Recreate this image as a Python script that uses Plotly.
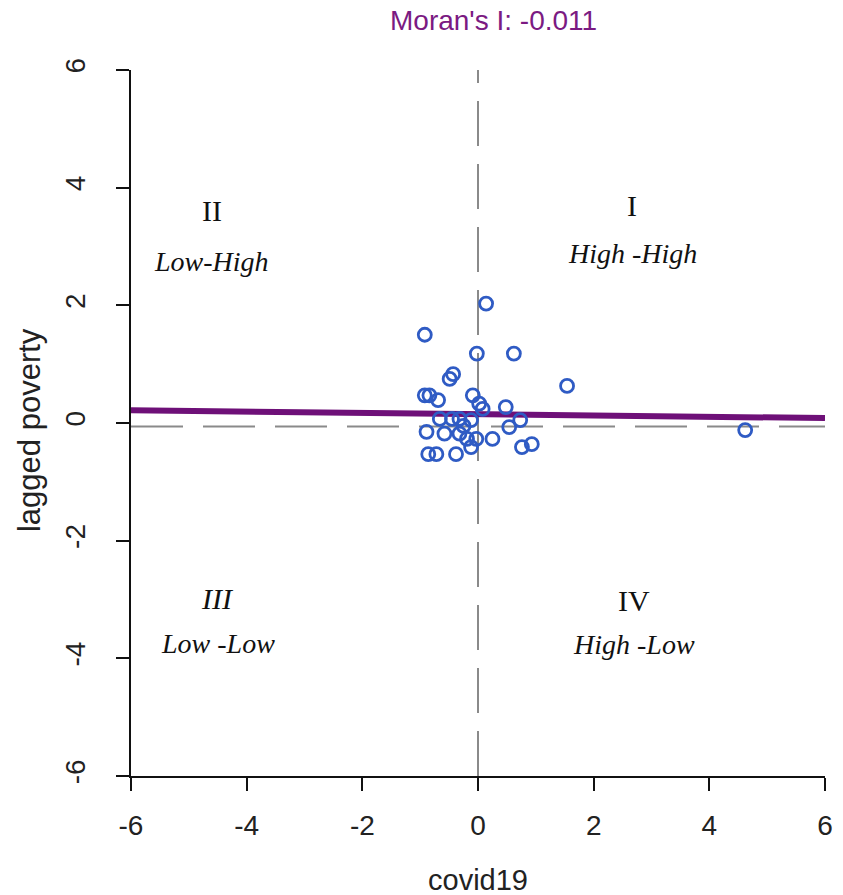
import plotly.graph_objects as go

# Data
covid19 = [0.14, -0.92, -0.02, 0.62, 1.54, 4.62,
           -0.49, -0.43, -0.92, -0.84, -0.69, -0.09, 0.02, 0.48, 0.08,
           -0.66, -0.32, -0.12, 0.73, 0.54, -0.89, -0.58, -0.32, -0.19,
           -0.03, 0.25, 0.76, 0.93, -0.86, -0.72, -0.38, -0.12, -0.45, -0.25]
lagged_poverty = [2.03, 1.50, 1.18, 1.18, 0.63, -0.12,
                  0.75, 0.83, 0.47, 0.47, 0.39, 0.47, 0.33, 0.27, 0.24,
                  0.07, 0.07, 0.05, 0.05, -0.07, -0.15, -0.18, -0.18, -0.27,
                  -0.27, -0.27, -0.41, -0.36, -0.53, -0.53, -0.53, -0.41, 0.07, -0.05]

moran_i = -0.011
intercept = 0.15
x_mean = 0.0
y_mean = -0.06
axis_range = [-6, 6]
tick_vals = [-6, -4, -2, 0, 2, 4, 6]
tick_text = ["-6", "-4", "-2", "0", "2", "4", "6"]

quad_numerals = ["II", "I", "<i>III</i>", "IV"]
quad_labels = ["Low-High", "High -High", "Low -Low", "High -Low"]
quad_x = [-4.6, 2.67, -4.5, 2.70]
quad_num_y = [3.62, 3.7, -2.98, -3.02]
quad_lab_y = [2.75, 2.88, -3.75, -3.76]

fig = go.Figure()

# regression line
fig.add_trace(go.Scatter(
    x=axis_range,
    y=[intercept + moran_i * v for v in axis_range],
    mode="lines", line=dict(color="#6E1078", width=6), hoverinfo="skip"))

fig.add_trace(go.Scatter(
    x=covid19, y=lagged_poverty, mode="markers",
    marker=dict(symbol="circle-open", size=13, color="#2F5BC4",
                line=dict(width=2.8, color="#2F5BC4"))))

# mean lines
fig.add_shape(type="line", xref="x", yref="paper", x0=x_mean, x1=x_mean, y0=0, y1=1,
              line=dict(color="#8a8a8a", width=2, dash="45px,18px"), layer="below")
fig.add_shape(type="line", xref="paper", yref="y", x0=0, x1=1, y0=y_mean, y1=y_mean,
              line=dict(color="#8a8a8a", width=2, dash="52px,20px"), layer="below")

serif = "Liberation Serif, Times New Roman, serif"
for xq, yn, yl, n, lab in zip(quad_x, quad_num_y, quad_lab_y, quad_numerals, quad_labels):
    fig.add_annotation(x=xq, y=yn, text=n, showarrow=False,
                       font=dict(family=serif, size=30, color="#111"))
    fig.add_annotation(x=xq, y=yl, text="<i>" + lab + "</i>", showarrow=False,
                       font=dict(family=serif, size=28, color="#111"))

sans = "Liberation Sans, Arial, sans-serif"
fig.add_annotation(xref="paper", yref="paper", x=0.522, y=1.07,
                   xanchor="center", yanchor="middle",
                   text="Moran's I: " + str(moran_i), showarrow=False,
                   font=dict(family=sans, size=28, color="#7B1A82"))
fig.add_annotation(xref="paper", yref="paper", x=0.5, y=-0.147,
                   xanchor="center", yanchor="middle",
                   text="covid19", showarrow=False,
                   font=dict(family=sans, size=29, color="#222"))
fig.add_annotation(xref="paper", yref="paper", x=-0.147, y=0.49,
                   xanchor="center", yanchor="middle",
                   text="lagged poverty", showarrow=False, textangle=-90,
                   font=dict(family=sans, size=31, color="#222"))

axis_common = dict(range=axis_range, tickvals=tick_vals, ticktext=tick_text,
                   showgrid=False, zeroline=False,
                   showline=True, linecolor="#111", linewidth=2,
                   ticks="outside", ticklen=13, tickwidth=2, tickcolor="#111",
                   tickfont=dict(family=sans, size=28, color="#222"))

fig.update_layout(
    width=843, height=895, showlegend=False,
    margin=dict(l=131, r=10, t=70, b=119),
    plot_bgcolor="white", paper_bgcolor="white",
    xaxis=dict(**axis_common, ticklabelstandoff=10),
    yaxis=dict(**axis_common, tickangle=-90, ticklabelstandoff=20),
)

fig.write_html("out.html")
